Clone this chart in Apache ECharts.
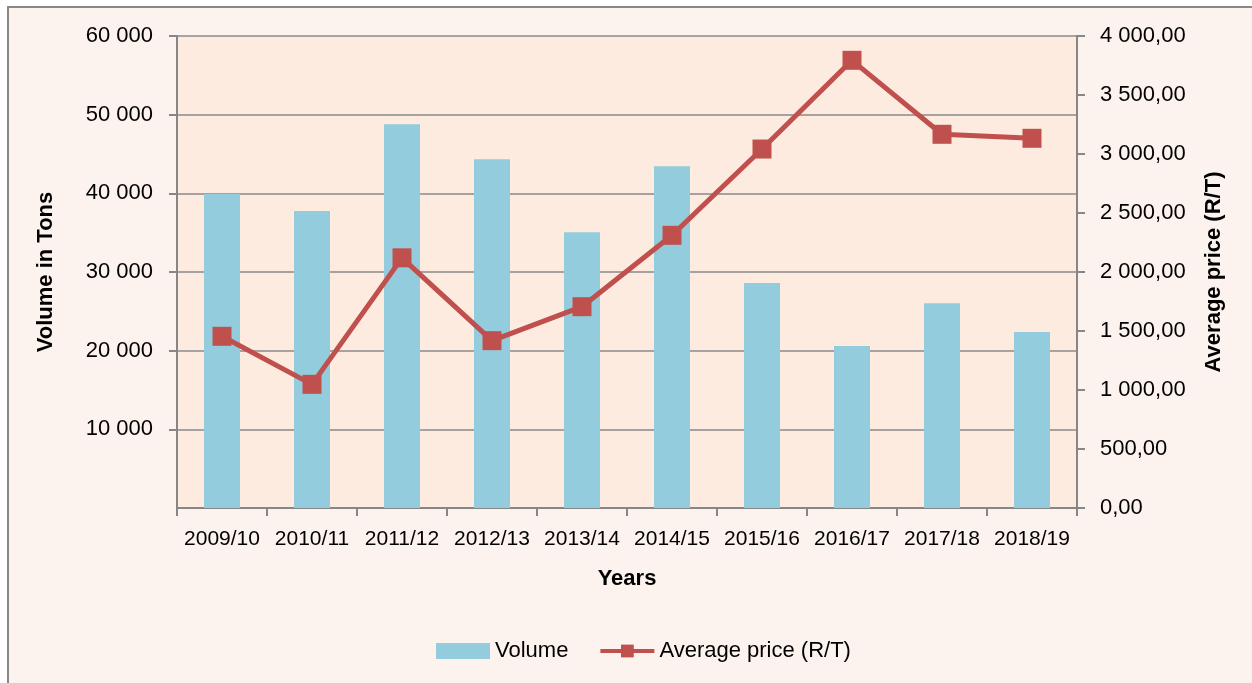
<!DOCTYPE html>
<html>
<head>
<meta charset="utf-8">
<script src="https://cdn.jsdelivr.net/npm/echarts@6/dist/echarts.min.js"></script>
<style>
  html, body { margin: 0; padding: 0; background: #ffffff; }
  #chart { width: 1252px; height: 683px; }
</style>
</head>
<body>
<div id="chart"></div>
<script>
// data
var years = ['2009/10', '2010/11', '2011/12', '2012/13', '2013/14', '2014/15', '2015/16', '2016/17', '2017/18', '2018/19']
var volume = [39900, 37750, 48780, 44320, 35050, 43440, 28600, 20600, 26020, 22370]
var avgPrice = [1455, 1048, 2120, 1418, 1706, 2311, 3042, 3794, 3167, 3133]

var FONT = "'Liberation Sans', Arial, sans-serif"

function spaced(n) {
  return String(n).replace(/\B(?=(\d{3})+(?!\d))/g, ' ')
}

var chart = echarts.init(document.getElementById('chart'))
chart.setOption({
  animation: false,
  backgroundColor: 'transparent',
  textStyle: { fontFamily: FONT },
  graphic: [{
    type: 'rect',
    z: -10,
    shape: { x: 8, y: 7, width: 1300, height: 800 },
    style: { fill: '#FDF3EE', stroke: '#888888', lineWidth: 2 }
  }],
  grid: {
    left: 177,
    right: 175,
    top: 36,
    bottom: 175,
    show: true,
    backgroundColor: '#FDEBDF',
    borderWidth: 0
  },
  legend: {
    bottom: 16,
    left: 431,
    itemGap: 30,
    itemWidth: 54,
    itemHeight: 16,
    textStyle: { fontFamily: FONT, fontSize: 22, color: '#000' },
    data: [
      { name: 'Volume', icon: 'rect' },
      { name: 'Average price (R/T)', lineStyle: { width: 4 } }
    ]
  },
  xAxis: [{
    type: 'category',
    data: years,
    name: 'Years',
    nameLocation: 'middle',
    nameGap: 60,
    nameTextStyle: { fontFamily: FONT, fontSize: 22, fontWeight: 'bold', color: '#000' },
    axisLine: { show: true, lineStyle: { color: '#868686', width: 2 } },
    axisTick: { show: true, length: 8, lineStyle: { color: '#868686', width: 2 } },
    axisLabel: { interval: 0, margin: 21, fontSize: 21, color: '#000', fontFamily: FONT }
  }],
  yAxis: [{
    type: 'value',
    min: 0,
    max: 60000,
    interval: 10000,
    name: 'Volume in Tons',
    nameLocation: 'middle',
    nameGap: 120,
    nameTextStyle: { fontFamily: FONT, fontSize: 22, fontWeight: 'bold', color: '#000' },
    axisLine: { show: true, lineStyle: { color: '#868686', width: 2 } },
    axisTick: { show: true, length: 8, lineStyle: { color: '#868686', width: 2 } },
    axisLabel: {
      margin: 24,
      fontSize: 22,
      color: '#000',
      fontFamily: FONT,
      showMinLabel: false,
      formatter: function (v) { return v === 0 ? '' : spaced(v) }
    },
    splitLine: { show: true, lineStyle: { color: '#8a8a8a', width: 1.5 } }
  }, {
    type: 'value',
    min: 0,
    max: 4000,
    interval: 500,
    position: 'right',
    name: 'Average price (R/T)',
    nameLocation: 'middle',
    nameGap: 126,
    nameRotate: 90,
    nameTextStyle: { fontFamily: FONT, fontSize: 22, fontWeight: 'bold', color: '#000' },
    axisLine: { show: true, lineStyle: { color: '#868686', width: 2 } },
    axisTick: { show: true, length: 8, lineStyle: { color: '#868686', width: 2 } },
    axisLabel: {
      margin: 23,
      fontSize: 22,
      color: '#000',
      fontFamily: FONT,
      formatter: function (v) { return spaced(Math.floor(v)) + ',00' }
    },
    splitLine: { show: false }
  }],
  series: [{
    name: 'Volume',
    type: 'bar',
    barWidth: '40%',
    itemStyle: { color: '#93CDDD' },
    data: volume
  }, {
    name: 'Average price (R/T)',
    type: 'line',
    yAxisIndex: 1,
    symbol: 'rect',
    symbolSize: 19,
    showSymbol: true,
    lineStyle: { color: '#C0504D', width: 5 },
    itemStyle: { color: '#C0504D' },
    data: avgPrice
  }]
})
</script>
</body>
</html>
